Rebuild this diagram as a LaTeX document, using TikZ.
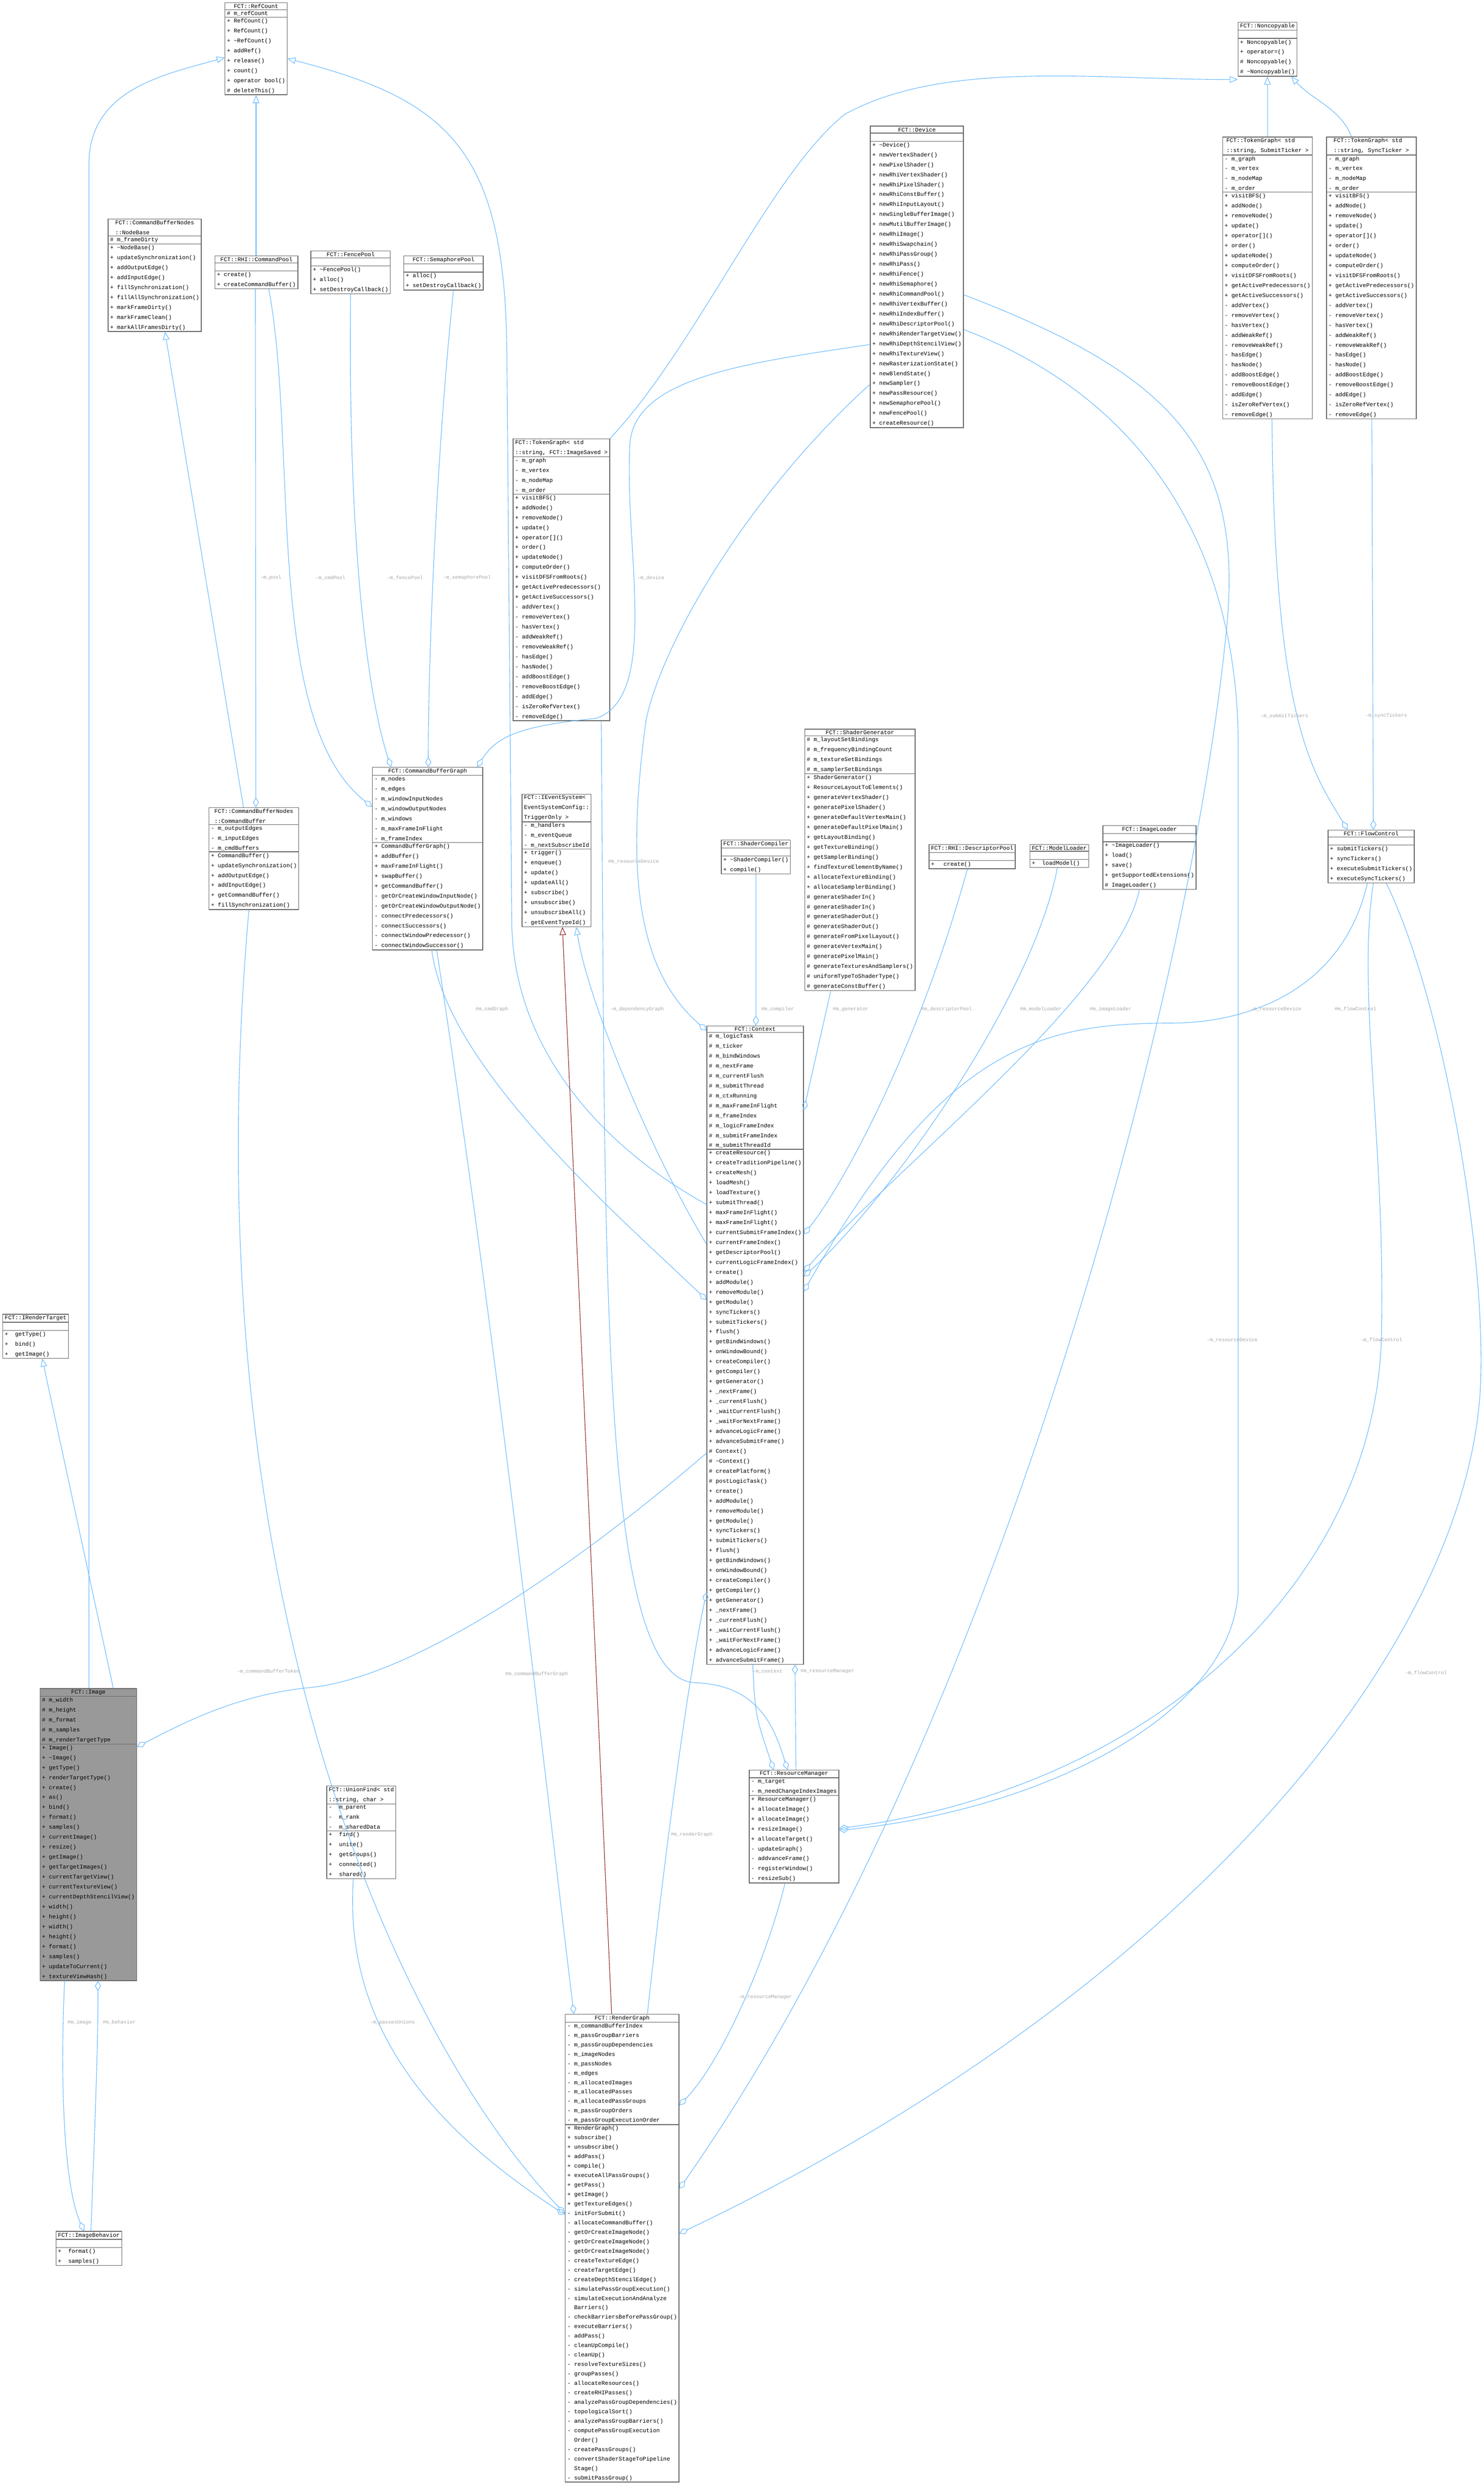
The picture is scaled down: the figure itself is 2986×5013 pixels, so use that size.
\documentclass[tikz,border=0pt]{standalone}
\usepackage{fontspec}
\usetikzlibrary{shapes.multipart,arrows.meta}
\newfontfamily\umlfont{Liberation Mono}
\definecolor{edgeblue}{HTML}{63B8FF}
\definecolor{tplred}{HTML}{8B1A1A}
\tikzset{
  umlclass/.style={rectangle split, rectangle split parts=3, draw=black!60, line width=1.4pt,
    anchor=north west, inner xsep=4pt, inner ysep=2pt, align=left, fill=white,
    rectangle split part align={center,left,left},
    rectangle split ignore empty parts=false, rectangle split empty part height=11pt,
    font=\umlfont\fontsize{11.5}{20}\selectfont},
  inh/.style={draw=edgeblue, line width=1.1pt, -{Triangle[open,length=16pt,width=13pt]}},
  tinh/.style={inh, draw=tplred},
  agg/.style={draw=edgeblue, line width=1.1pt, -{Diamond[open,length=20pt,width=12pt]}},
  lbl/.style={font=\umlfont\fontsize{10}{12}\selectfont, text=black!35, inner sep=1pt}
}
\newcommand{\umlcls}[5]{\node[umlclass] (#1) at (#2) {#3\nodepart{two}#4\nodepart{three}#5};}
\begin{document}
\begin{tikzpicture}[x=1pt,y=-1pt]
  \useasboundingbox[fill=white] (0,0) rectangle (2986,5013);
  % classes
  \umlcls{rc}{452,5}{FCT::RefCount}{\# m\_refCount}{+ RefCount()\\+ RefCount()\\+ \textasciitilde RefCount()\\+ addRef()\\+ release()\\+ count()\\+ operator bool()\\\# deleteThis()}
  \umlcls{cpool}{432,514}{FCT::RHI::CommandPool}{}{+ create()\\+ createCommandBuffer()}
  \umlcls{fpool}{625,504}{FCT::FencePool}{}{+ \textasciitilde FencePool()\\+ alloc()\\+ setDestroyCallback()}
  \umlcls{spool}{812,514}{FCT::SemaphorePool}{}{+ alloc()\\+ setDestroyCallback()}
  \umlcls{nbase}{217,440}{FCT::CommandBufferNodes\\::NodeBase}{\# m\_frameDirty}{+ \textasciitilde NodeBase()\\+ updateSynchronization()\\+ addOutputEdge()\\+ addInputEdge()\\+ fillSynchronization()\\+ fillAllSynchronization()\\+ markFrameDirty()\\+ markFrameClean()\\+ markAllFramesDirty()}
  \umlcls{cbuf}{420,1624}{FCT::CommandBufferNodes\\::CommandBuffer}{- m\_outputEdges\\- m\_inputEdges\\- m\_cmdBuffers}{+ CommandBuffer()\\+ updateSynchronization()\\+ addOutputEdge()\\+ addInputEdge()\\+ getCommandBuffer()\\+ fillSynchronization()}
  \umlcls{cbg}{749,1543}{FCT::CommandBufferGraph}{- m\_nodes\\- m\_edges\\- m\_windowInputNodes\\- m\_windowOutputNodes\\- m\_windows\\- m\_maxFrameInFlight\\- m\_frameIndex}{+ CommandBufferGraph()\\+ addBuffer()\\+ maxFrameInFlight()\\+ swapBuffer()\\+ getCommandBuffer()\\- getOrCreateWindowInputNode()\\- getOrCreateWindowOutputNode()\\- connectPredecessors()\\- connectSuccessors()\\- connectWindowPredecessor()\\- connectWindowSuccessor()}
  \umlcls{tgimg}{1032,882}{FCT::TokenGraph< std\\::string, FCT::ImageSaved >}{- m\_graph\\- m\_vertex\\- m\_nodeMap\\- m\_order}{+ visitBFS()\\+ addNode()\\+ removeNode()\\+ update()\\+ operator[]()\\+ order()\\+ updateNode()\\+ computeOrder()\\+ visitDFSFromRoots()\\+ getActivePredecessors()\\+ getActiveSuccessors()\\- addVertex()\\- removeVertex()\\- hasVertex()\\- addWeakRef()\\- removeWeakRef()\\- hasEdge()\\- hasNode()\\- addBoostEdge()\\- removeBoostEdge()\\- addEdge()\\- isZeroRefVertex()\\- removeEdge()}
  \umlcls{evt}{1050,1597}{FCT::IEventSystem<\\ EventSystemConfig::\\TriggerOnly >}{- m\_handlers\\- m\_eventQueue\\- m\_nextSubscribeId}{+ trigger()\\+ enqueue()\\+ update()\\+ updateAll()\\+ subscribe()\\+ unsubscribe()\\+ unsubscribeAll()\\- getEventTypeId()}
  \umlcls{dev}{1751,253}{FCT::Device}{}{+ \textasciitilde Device()\\+ newVertexShader()\\+ newPixelShader()\\+ newRhiVertexShader()\\+ newRhiPixelShader()\\+ newRhiConstBuffer()\\+ newRhiInputLayout()\\+ newSingleBufferImage()\\+ newMutilBufferImage()\\+ newRhiImage()\\+ newRhiSwapchain()\\+ newRhiPassGroup()\\+ newRhiPass()\\+ newRhiFence()\\+ newRhiSemaphore()\\+ newRhiCommandPool()\\+ newRhiVertexBuffer()\\+ newRhiIndexBuffer()\\+ newRhiDescriptorPool()\\+ newRhiRenderTargetView()\\+ newRhiDepthStencilView()\\+ newRhiTextureView()\\+ newRasterizationState()\\+ newBlendState()\\+ newSampler()\\+ newPassResource()\\+ newSemaphorePool()\\+ newFencePool()\\+ createResource()}
  \umlcls{ncp}{2491,44}{FCT::Noncopyable}{}{+ Noncopyable()\\+ operator=()\\\# Noncopyable()\\\# \textasciitilde Noncopyable()}
  \umlcls{tgsub}{2460,275}{FCT::TokenGraph< std\\::string, SubmitTicker >}{- m\_graph\\- m\_vertex\\- m\_nodeMap\\- m\_order}{+ visitBFS()\\+ addNode()\\+ removeNode()\\+ update()\\+ operator[]()\\+ order()\\+ updateNode()\\+ computeOrder()\\+ visitDFSFromRoots()\\+ getActivePredecessors()\\+ getActiveSuccessors()\\- addVertex()\\- removeVertex()\\- hasVertex()\\- addWeakRef()\\- removeWeakRef()\\- hasEdge()\\- hasNode()\\- addBoostEdge()\\- removeBoostEdge()\\- addEdge()\\- isZeroRefVertex()\\- removeEdge()}
  \umlcls{tgsyn}{2669,275}{FCT::TokenGraph< std\\::string, SyncTicker >}{- m\_graph\\- m\_vertex\\- m\_nodeMap\\- m\_order}{+ visitBFS()\\+ addNode()\\+ removeNode()\\+ update()\\+ operator[]()\\+ order()\\+ updateNode()\\+ computeOrder()\\+ visitDFSFromRoots()\\+ getActivePredecessors()\\+ getActiveSuccessors()\\- addVertex()\\- removeVertex()\\- hasVertex()\\- addWeakRef()\\- removeWeakRef()\\- hasEdge()\\- hasNode()\\- addBoostEdge()\\- removeBoostEdge()\\- addEdge()\\- isZeroRefVertex()\\- removeEdge()}
  \umlcls{sgen}{1619,1466}{FCT::ShaderGenerator}{\# m\_layoutSetBindings\\\# m\_frequencyBindingCount\\\# m\_textureSetBindings\\\# m\_samplerSetBindings}{+ ShaderGenerator()\\+ ResourceLayoutToElements()\\+ generateVertexShader()\\+ generatePixelShader()\\+ generateDefaultVertexMain()\\+ generateDefaultPixelMain()\\+ getLayoutBinding()\\+ getTextureBinding()\\+ getSamplerBinding()\\+ findTextureElementByName()\\+ allocateTextureBinding()\\+ allocateSamplerBinding()\\\# generateShaderIn()\\\# generateShaderIn()\\\# generateShaderOut()\\\# generateShaderOut()\\\# generateFromPixelLayout()\\\# generateVertexMain()\\\# generatePixelMain()\\\# generateTexturesAndSamplers()\\\# uniformTypeToShaderType()\\\# generateConstBuffer()}
  \umlcls{scomp}{1451,1689}{FCT::ShaderCompiler}{}{+ \textasciitilde ShaderCompiler()\\+ compile()}
  \umlcls{dpool}{1869,1698}{FCT::RHI::DescriptorPool}{}{+ \quad create()}
  \umlcls{mload}{2072,1698}{FCT::ModelLoader}{}{+ \ loadModel()}
  \umlcls{iload}{2219,1660}{FCT::ImageLoader}{}{+ \textasciitilde ImageLoader()\\+ load()\\+ save()\\+ getSupportedExtensions()\\\# ImageLoader()}
  \umlcls{flow}{2672,1669}{FCT::FlowControl}{}{+ submitTickers()\\+ syncTickers()\\+ executeSubmitTickers()\\+ executeSyncTickers()}
  \umlcls{ctx}{1422,2063}{FCT::Context}{\# m\_logicTask\\\# m\_ticker\\\# m\_bindWindows\\\# m\_nextFrame\\\# m\_currentFlush\\\# m\_submitThread\\\# m\_ctxRunning\\\# m\_maxFrameInFlight\\\# m\_frameIndex\\\# m\_logicFrameIndex\\\# m\_submitFrameIndex\\\# m\_submitThreadId}{+ createResource()\\+ createTraditionPipeline()\\+ createMesh()\\+ loadMesh()\\+ loadTexture()\\+ submitThread()\\+ maxFrameInFlight()\\+ maxFrameInFlight()\\+ currentSubmitFrameIndex()\\+ currentFrameIndex()\\+ getDescriptorPool()\\+ currentLogicFrameIndex()\\+ create()\\+ addModule()\\+ removeModule()\\+ getModule()\\+ syncTickers()\\+ submitTickers()\\+ flush()\\+ getBindWindows()\\+ onWindowBound()\\+ createCompiler()\\+ getCompiler()\\+ getGenerator()\\+ \_nextFrame()\\+ \_currentFlush()\\+ \_waitCurrentFlush()\\+ \_waitForNextFrame()\\+ advanceLogicFrame()\\+ advanceSubmitFrame()\\\# Context()\\\# \textasciitilde Context()\\\# createPlatform()\\\# postLogicTask()\\+ create()\\+ addModule()\\+ removeModule()\\+ getModule()\\+ syncTickers()\\+ submitTickers()\\+ flush()\\+ getBindWindows()\\+ onWindowBound()\\+ createCompiler()\\+ getCompiler()\\+ getGenerator()\\+ \_nextFrame()\\+ \_currentFlush()\\+ \_waitCurrentFlush()\\+ \_waitForNextFrame()\\+ advanceLogicFrame()\\+ advanceSubmitFrame()}
  \umlcls{rm}{1507,3560}{FCT::ResourceManager}{- m\_target\\- m\_needChangeIndexImages}{+ ResourceManager()\\+ allocateImage()\\+ allocateImage()\\+ resizeImage()\\+ allocateTarget()\\- updateGraph()\\- addvanceFrame()\\- registerWindow()\\- resizeSub()}
  \umlcls{irt}{5,2643}{FCT::IRenderTarget}{}{+ \ getType()\\+ \ bind()\\+ \ getImage()}
  \node[umlclass, fill=black!40] (img) at (80,3396) {FCT::Image\nodepart{two}\# m\_width\\\# m\_height\\\# m\_format\\\# m\_samples\\\# m\_renderTargetType\nodepart{three}+ Image()\\+ \textasciitilde Image()\\+ getType()\\+ renderTargetType()\\+ create()\\+ as()\\+ bind()\\+ format()\\+ samples()\\+ currentImage()\\+ resize()\\+ getImage()\\+ getTargetImages()\\+ currentTargetView()\\+ currentTextureView()\\+ currentDepthStencilView()\\+ width()\\+ height()\\+ width()\\+ height()\\+ format()\\+ samples()\\+ updateToCurrent()\\+ textureViewHash()};
  \umlcls{uf}{657,3592}{FCT::UnionFind< std\\::string, char >}{- \ m\_parent\\- \ m\_rank\\- \ m\_sharedData}{+ \ find()\\+ \ unite()\\+ \ getGroups()\\+ \ connected()\\+ \ shared()}
  \umlcls{ibeh}{112,4488}{FCT::ImageBehavior}{}{+ \ format()\\+ \ samples()}
  \node[umlclass, font=\umlfont\fontsize{11.5}{19}\selectfont] (rg) at (1137,4051) {FCT::RenderGraph\nodepart{two}- m\_commandBufferIndex\\- m\_passGroupBarriers\\- m\_passGroupDependencies\\- m\_imageNodes\\- m\_passNodes\\- m\_edges\\- m\_allocatedImages\\- m\_allocatedPasses\\- m\_allocatedPassGroups\\- m\_passGroupOrders\\- m\_passGroupExecutionOrder\nodepart{three}+ RenderGraph()\\+ subscribe()\\+ unsubscribe()\\+ addPass()\\+ compile()\\+ executeAllPassGroups()\\+ getPass()\\+ getImage()\\+ getTextureEdges()\\- initForSubmit()\\- allocateCommandBuffer()\\- getOrCreateImageNode()\\- getOrCreateImageNode()\\- getOrCreateImageNode()\\- createTextureEdge()\\- createTargetEdge()\\- createDepthStencilEdge()\\- simulatePassGroupExecution()\\- simulateExecutionAndAnalyze\\\ \ Barriers()\\- checkBarriersBeforePassGroup()\\- executeBarriers()\\- addPass()\\- cleanUpCompile()\\- cleanUp()\\- resolveTextureSizes()\\- groupPasses()\\- allocateResources()\\- createRHIPasses()\\- analyzePassGroupDependencies()\\- topologicalSort()\\- analyzePassGroupBarriers()\\- computePassGroupExecution\\\ \ Order()\\- createPassGroups()\\- convertShaderStageToPipeline\\\ \ Stage()\\- submitPassGroup()};
  % inheritance
  \draw[inh] ([xshift=99]img.north west) -- (179,330) .. controls (179,180) and (330,150) .. ([yshift=-111]rc.north west);
  \draw[inh] ([xshift=148]img.north west) -- ([xshift=80]irt.south west);
  \draw[inh] (cpool.north -| rc.south) -- (rc.south);
  \draw[inh] ([yshift=-360]ctx.north west) .. controls (1200,2300) and (1030,2100) .. (1030,1850) -- (1020,700) .. controls (1015,300) and (900,200) .. ([yshift=-113]rc.north east);
  \draw[inh] (tgimg.north east) .. controls (1400,700) and (1550,350) .. (1700,230) .. controls (1900,120) and (2200,160) .. ([yshift=-116]ncp.north west);
  \draw[inh] (tgsub.north -| ncp.south) -- (ncp.south);
  \draw[inh] ([xshift=-40]tgsyn.north) .. controls (2700,220) and (2640,200) .. ([xshift=-12]ncp.south east);
  \draw[inh] ([xshift=70]cbuf.north west) -- ([xshift=115]nbase.south west);
  \draw[tinh] ([xshift=94]rg.north west) -- ([xshift=82]evt.south west);
  \draw[inh] ([yshift=-440]ctx.north west) .. controls (1300,2300) and (1180,2000) .. ([xshift=110]evt.south west);
  % aggregation
  \draw[agg] ([xshift=-2]cpool.south) -- ([xshift=95]cbuf.north west);
  \draw[agg] ([xshift=25]cpool.south) .. controls (600,900) and (530,1450) .. ([yshift=-80]cbg.north west);
  \draw[agg] (fpool.south) .. controls (700,1100) and (740,1400) .. ([xshift=38]cbg.north west);
  \draw[agg] ([xshift=20]spool.south) .. controls (880,900) and (862,1300) .. ([xshift=113]cbg.north west);
  \draw[agg] ([yshift=-440]dev.north west) .. controls (1500,730) and (1280,760) .. (1268,890) .. controls (1255,1100) and (1330,1400) .. (1200,1445) .. controls (1050,1460) and (1000,1480) .. ([xshift=-12]cbg.north east);
  \draw[agg] ([xshift=120]cbg.south west) .. controls (900,2150) and (1250,2450) .. ([yshift=-552]ctx.north west);
  \draw[agg] ([yshift=-520]dev.north west) .. controls (1500,1000) and (1330,1300) .. (1300,1450) .. controls (1260,1750) and (1280,1950) .. ([yshift=-10]ctx.north west);
  \draw[agg] ([xshift=130]cbg.south west) .. controls (1000,2700) and (1100,3600) .. ([xshift=18]rg.north west);
  \draw[agg] ([xshift=-10]cbuf.south) .. controls (380,3200) and (800,4100) .. ([yshift=-402]rg.north west);
  \draw[agg] ([yshift=-860]ctx.north west) .. controls (1100,3200) and (800,3380) .. (620,3395) .. controls (480,3410) and (380,3460) .. ([yshift=-118]img.north east);
  \draw[agg] ([xshift=93]ctx.south west) .. controls (1520,3450) .. ([xshift=50]rm.north west);
  \draw[agg] ([xshift=95]rm.north west) -- ([xshift=178]ctx.south west);
  \draw[agg] ([xshift=178]tgimg.south west) .. controls (1220,2500) and (1200,3380) .. (1400,3385) .. controls (1530,3390) and (1560,3480) .. ([xshift=78]rm.north west);
  \draw[agg] (scomp.south) -- (scomp.south |- ctx.north);
  \draw[agg] ([xshift=53]sgen.south west) -- ([yshift=-170]ctx.north east);
  \draw[agg] ([xshift=78]dpool.south west) .. controls (1850,2100) and (1700,2380) .. ([yshift=-420]ctx.north east);
  \draw[agg] ([xshift=56]mload.south west) .. controls (2080,2000) and (1800,2400) .. ([yshift=-505]ctx.north east);
  \draw[agg] ([xshift=74]iload.south west) .. controls (2250,2000) and (1800,2350) .. ([yshift=-495]ctx.north east);
  \draw[agg] ([xshift=80]flow.south west) .. controls (2700,2000) and (2500,2060) .. (2350,2058) .. controls (2100,2060) and (1900,2100) .. ([yshift=-535]ctx.north east);
  \draw[agg] ([xshift=100]tgsub.south west) .. controls (2565,1450) and (2640,1550) .. ([xshift=40]flow.north west);
  \draw[agg] ([xshift=92]tgsyn.south west) -- ([xshift=92]flow.north west);
  \draw[agg] ([xshift=92]flow.south west) .. controls (2730,2000) and (2790,2300) .. (2780,2700) .. controls (2760,3200) and (2300,3600) .. ([yshift=-118]rm.north east);
  \draw[agg] ([yshift=-410]dev.north east) .. controls (2300,800) and (2492,1100) .. (2492,1500) -- (2492,3200) .. controls (2480,3450) and (2100,3640) .. ([yshift=-122]rm.north east);
  \draw[agg] ([yshift=-340]dev.north east) .. controls (2350,750) and (2500,900) .. (2470,1250) .. controls (2400,2000) and (2000,3500) .. ([yshift=-352]rg.north east);
  \draw[agg] ([xshift=118]flow.south west) .. controls (2900,2000) and (2990,2500) .. (2980,2780) .. controls (2960,3300) and (2400,4000) .. ([yshift=-442]rg.north east);
  \draw[agg] ([xshift=73]rm.south west) .. controls (1540,3950) and (1450,4150) .. ([yshift=-184]rg.north east);
  \draw[agg] ([xshift=54]uf.south west) .. controls (690,4100) and (900,4300) .. ([yshift=-404]rg.north west);
  \draw[agg] ([xshift=166]rg.north west) .. controls (1330,3800) and (1380,3400) .. ([yshift=-1140]ctx.north west);
  \draw[agg] ([xshift=50]img.south west) .. controls (120,4200) and (130,4400) .. ([xshift=57]ibeh.north west);
  \draw[agg] ([xshift=71]ibeh.north west) .. controls (190,4300) and (198,4100) .. ([xshift=117]img.south west);
  % labels
  \node[lbl] (lpool) at (545,1162) {-m\_pool};
  \node[lbl] (lcmdpool) at (665,1162) {-m\_cmdPool};
  \node[lbl] (lfence) at (815,1162) {-m\_fencePool};
  \node[lbl] (lsema) at (940,1162) {-m\_semaphorePool};
  \node[lbl] (ldevice) at (1310,1162) {-m\_device};
  \node[lbl] (lresdev) at (1275,1733) {\#m\_resourceDevice};
  \node[lbl] (lcmdgraph) at (990,2030) {\#m\_cmdGraph};
  \node[lbl] (ldep) at (1282,2030) {-m\_dependencyGraph};
  \node[lbl] (lcomp) at (1565,2030) {\#m\_compiler};
  \node[lbl] (lgen) at (1712,2030) {\#m\_generator};
  \node[lbl] (ldesc) at (1905,2030) {\#m\_descriptorPool};
  \node[lbl] (lmodel) at (2095,2030) {\#m\_modelLoader};
  \node[lbl] (limage) at (2235,2030) {\#m\_imageLoader};
  \node[lbl] (lresdev2) at (2568,2030) {-m\_resourceDevice};
  \node[lbl] (lflow) at (2728,2030) {\#m\_flowControl};
  \node[lbl] (lsub) at (2585,1440) {-m\_submitTickers};
  \node[lbl] (lsyn) at (2790,1440) {-m\_syncTickers};
  \node[lbl] (lresdev3) at (2480,2695) {-m\_resourceDevice};
  \node[lbl] (lflow2) at (2780,2695) {-m\_flowControl};
  \node[lbl] (ltoken) at (540,3362) {-m\_commandBufferToken};
  \node[lbl] (lcbg) at (1080,3368) {\#m\_commandBufferGraph};
  \node[lbl] (lctx) at (1545,3362) {-m\_context};
  \node[lbl] (lrm) at (1665,3362) {\#m\_resourceManager};
  \node[lbl] (lrg) at (1392,3690) {\#m\_renderGraph};
  \node[lbl] (lflow3) at (2870,3365) {-m\_flowControl};
  \node[lbl] (lrm2) at (1540,4018) {-m\_resourceManager};
  \node[lbl] (lunion) at (790,4068) {-m\_passesUnions};
  \node[lbl] (limg) at (160,4068) {\#m\_image};
  \node[lbl] (lbeh) at (240,4068) {\#m\_behavior};
\end{tikzpicture}
\end{document}
